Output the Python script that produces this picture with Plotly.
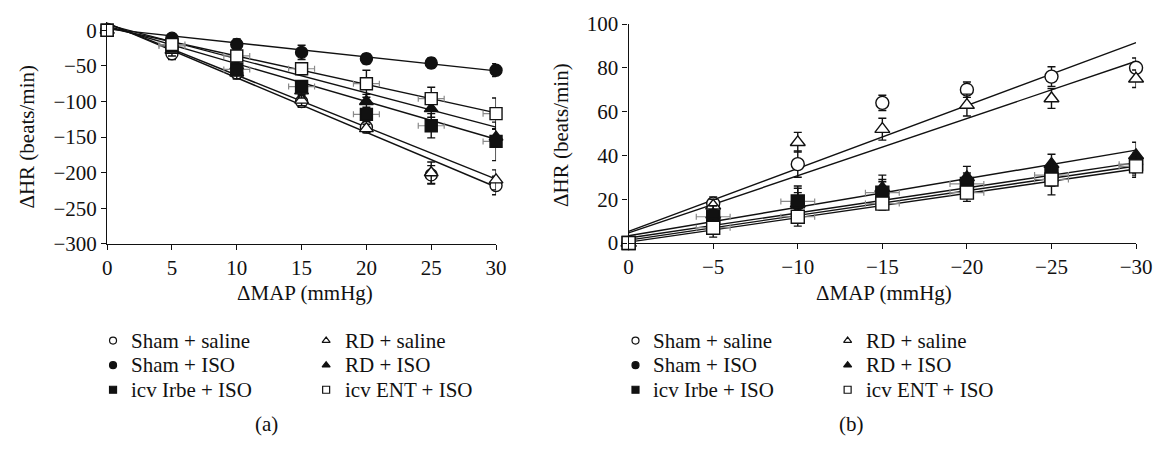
import plotly.graph_objects as go

# ---------------- data ----------------
# Panel (a): pressor responses (ΔMAP positive)
map_a = [0, 5, 10, 15, 20, 25, 30]
sham_saline_a = [0, -33, -60, -100, -136, -203, -218]
sham_saline_a_err = [0, 8, 8, 8, 6, 13, 13]
sham_iso_a = [0, -11, -20, -31, -40, -46, -56]
sham_iso_a_err = [0, 6, 8, 10, 7, 7, 9]
irbe_a = [0, -22, -55, -79, -118, -134, -156]
irbe_a_err = [0, 8, 8, 8, 10, 17, 27]
rd_saline_a = [0, -28, -60, -98, -138, -200, -210]
rd_saline_a_err = [0, 8, 8, 8, 6, 15, 14]
rd_iso_a = [0, -20, -50, -85, -100, -110, -150]
rd_iso_a_err = [0, 8, 8, 10, 10, 12, 12]
ent_a = [0, -20, -36, -54, -75, -96, -117]
ent_a_err = [0, 8, 8, 8, 19, 16, 22]
square_xerr_a = [0, 1, 1, 1, 1, 1, 1]

# regression lines panel (a): value at ΔMAP = 0 and at ΔMAP = 30
fit_x_a = [0, 30]
fit_sham_saline_a = [10, -220]
fit_rd_saline_a = [10, -209]
fit_rd_iso_a = [8, -136]
fit_irbe_a = [6, -153]
fit_ent_a = [4, -116]
fit_sham_iso_a = [2, -57]

# Panel (b): depressor responses (ΔMAP negative)
map_b = [0, -5, -10, -15, -20, -25, -30]
sham_saline_b = [0, 18, 36, 64, 70, 76, 80]
sham_saline_b_err = [0, 3, 6, 3.5, 3.5, 4.5, 4.5]
rd_saline_b = [0, 17, 46, 52, 63, 66, 75]
rd_saline_b_err = [0, 3, 4.5, 5, 5, 4.5, 4]
sham_iso_b = [0, 11, 18, 23, 28, 31, 36]
sham_iso_b_err = [0, 4, 5, 5, 4, 4, 4]
rd_iso_b = [0, 13, 18, 25, 30, 36, 40]
rd_iso_b_err = [0, 4, 7, 6, 5, 4.5, 6]
irbe_b = [0, 12, 19, 23, 27, 31, 36]
irbe_b_err = [0, 5, 7, 6, 4, 5, 5]
ent_b = [0, 7, 12, 18, 23, 29, 35]
ent_b_err = [0, 4.3, 4.3, 3, 4, 7, 5]
square_xerr_b = [0, 1, 1, 1, 1, 1, 1]

fit_x_b = [0, -30]
fit_sham_saline_b = [5.3, 91.5]
fit_rd_saline_b = [4.6, 83]
fit_rd_iso_b = [3.3, 42.4]
fit_irbe_b = [2.3, 36.7]
fit_sham_iso_b = [1.3, 35.2]
fit_ent_b = [0.4, 33.8]

ticks_a_x = [0, 5, 10, 15, 20, 25, 30]
ticks_a_y = [0, -50, -100, -150, -200, -250, -300]
ticks_b_x = [0, -5, -10, -15, -20, -25, -30]
ticks_b_y = [0, 20, 40, 60, 80, 100]

legend_col1 = ["Sham + saline", "Sham + ISO", "icv Irbe + ISO"]
legend_col2 = ["RD + saline", "RD + ISO", "icv ENT + ISO"]

# -------------- styles --------------
FONT = "Liberation Serif"
BLACK = "#111111"
GRAY = "#8a8a8a"
W = 1172
H = 451

STY = {
    "sham_saline": dict(symbol="circle", color="white"),
    "sham_iso": dict(symbol="circle", color=BLACK),
    "irbe": dict(symbol="square", color=BLACK),
    "rd_saline": dict(symbol="triangle-up", color="white"),
    "rd_iso": dict(symbol="triangle-up", color=BLACK),
    "ent": dict(symbol="square", color="white"),
}

fig = go.Figure()


def add_fit(xs, ys, xa, ya):
    fig.add_trace(go.Scatter(x=xs, y=ys, mode="lines", xaxis=xa, yaxis=ya,
                             line=dict(color=BLACK, width=1.4),
                             showlegend=False, hoverinfo="skip",
                             cliponaxis=False))


def add_series(xs, ys, err, key, xa, ya, xerr=None, size=12):
    st = STY[key]
    kw = {}
    if xerr is not None:
        kw["error_x"] = dict(type="data", array=xerr, visible=True,
                             color=GRAY, thickness=1.2, width=3)
    fig.add_trace(go.Scatter(
        x=xs, y=ys, mode="markers", xaxis=xa, yaxis=ya,
        marker=dict(symbol=st["symbol"], color=st["color"], size=size,
                    line=dict(color=BLACK, width=1.4)),
        error_y=dict(type="data", array=err, visible=True, color=BLACK,
                     thickness=1.4, width=4),
        showlegend=False, cliponaxis=False, **kw))


# panel (a)
for f in [fit_sham_saline_a, fit_rd_saline_a, fit_rd_iso_a, fit_irbe_a,
          fit_ent_a, fit_sham_iso_a]:
    add_fit(fit_x_a, f, "x", "y")
add_series(map_a, sham_saline_a, sham_saline_a_err, "sham_saline", "x", "y")
add_series(map_a, rd_saline_a, rd_saline_a_err, "rd_saline", "x", "y")
add_series(map_a, sham_iso_a, sham_iso_a_err, "sham_iso", "x", "y")
add_series(map_a, rd_iso_a, rd_iso_a_err, "rd_iso", "x", "y")
add_series(map_a, irbe_a, irbe_a_err, "irbe", "x", "y", xerr=square_xerr_a)
add_series(map_a, ent_a, ent_a_err, "ent", "x", "y", xerr=square_xerr_a)

# panel (b)
for f in [fit_sham_saline_b, fit_rd_saline_b, fit_rd_iso_b, fit_irbe_b,
          fit_sham_iso_b, fit_ent_b]:
    add_fit(fit_x_b, f, "x2", "y2")
add_series(map_b, sham_saline_b, sham_saline_b_err, "sham_saline", "x2", "y2", size=13)
add_series(map_b, rd_saline_b, rd_saline_b_err, "rd_saline", "x2", "y2", size=13)
add_series(map_b, sham_iso_b, sham_iso_b_err, "sham_iso", "x2", "y2", size=13)
add_series(map_b, rd_iso_b, rd_iso_b_err, "rd_iso", "x2", "y2", size=13)
add_series(map_b, irbe_b, irbe_b_err, "irbe", "x2", "y2", xerr=square_xerr_b, size=13)
add_series(map_b, ent_b, ent_b_err, "ent", "x2", "y2", xerr=square_xerr_b, size=13)

# -------------- legends (drawn in a pixel overlay axis) --------------
row_y = [347, 373, 399]
col1_keys = ["sham_saline", "sham_iso", "irbe"]
col2_keys = ["rd_saline", "rd_iso", "ent"]
legend_sets = [  # (marker x col1, text x col1, marker x col2, text x col2)
    (110, 126, 327, 344),
    (642, 658, 858, 875),
]
annotations = []
for (m1, t1, m2, t2) in legend_sets:
    for keys, labels, mx, tx in [(col1_keys, legend_col1, m1, t1),
                                 (col2_keys, legend_col2, m2, t2)]:
        for k, lab, yy in zip(keys, labels, row_y):
            st = STY[k]
            fig.add_trace(go.Scatter(
                x=[mx], y=[yy], mode="markers", xaxis="x3", yaxis="y3",
                marker=dict(symbol=st["symbol"], color=st["color"], size=7,
                            line=dict(color=BLACK, width=1.2)),
                showlegend=False, hoverinfo="skip", cliponaxis=False))
            annotations.append(dict(
                x=tx / W, y=1 - yy / H, xref="paper", yref="paper",
                text=lab, showarrow=False, xanchor="left", yanchor="middle",
                font=dict(family=FONT, size=21, color=BLACK)))

# panel labels
annotations.append(dict(x=266.7 / W, y=1 - 435 / H, xref="paper", yref="paper",
                        text="(a)", showarrow=False, xanchor="center",
                        yanchor="middle",
                        font=dict(family=FONT, size=21, color=BLACK)))
annotations.append(dict(x=861.7 / W, y=1 - 435 / H, xref="paper", yref="paper",
                        text="(b)", showarrow=False, xanchor="center",
                        yanchor="middle",
                        font=dict(family=FONT, size=21, color=BLACK)))

# axis titles
annotations.append(dict(x=305 / W, y=1 - 297 / H, xref="paper", yref="paper",
                        text="ΔMAP (mmHg)", showarrow=False, xanchor="center",
                        yanchor="middle",
                        font=dict(family=FONT, size=21, color=BLACK)))
annotations.append(dict(x=895 / W, y=1 - 297 / H, xref="paper", yref="paper",
                        text="ΔMAP (mmHg)", showarrow=False, xanchor="center",
                        yanchor="middle",
                        font=dict(family=FONT, size=21, color=BLACK)))
annotations.append(dict(x=22 / W, y=1 - 132 / H, xref="paper", yref="paper",
                        text="ΔHR (beats/min)", showarrow=False, textangle=-90,
                        xanchor="center", yanchor="middle",
                        font=dict(family=FONT, size=21, color=BLACK)))
annotations.append(dict(x=566 / W, y=1 - 130 / H, xref="paper", yref="paper",
                        text="ΔHR (beats/min)", showarrow=False, textangle=-90,
                        xanchor="center", yanchor="middle",
                        font=dict(family=FONT, size=21, color=BLACK)))

# significance marks
sig_a = [("#", -57.7), ("#§", -118), ("#§", -140.5), ("#§", -160.4)]
for txt, yv in sig_a:
    annotations.append(dict(x=31.0, y=yv, xref="x", yref="y", text=txt,
                            showarrow=False, xanchor="left", yanchor="middle",
                            font=dict(family=FONT, size=18, color=BLACK)))
sig_b = [("#", 43.3), ("#", 37.7), ("#", 32.9)]
for txt, yv in sig_b:
    annotations.append(dict(x=-30.66, y=yv, xref="x2", yref="y2", text=txt,
                            showarrow=False, xanchor="left", yanchor="middle",
                            font=dict(family=FONT, size=16, color=BLACK)))

axis_common = dict(showline=True, linecolor=BLACK, linewidth=1.4,
                   ticks="outside", ticklen=5, tickwidth=1.4, tickcolor=BLACK,
                   showgrid=False, zeroline=False,
                   tickfont=dict(family=FONT, size=21, color=BLACK))

fig.update_layout(
    width=W, height=H,
    margin=dict(l=0, r=0, t=0, b=0),
    paper_bgcolor="white", plot_bgcolor="rgba(0,0,0,0)",
    showlegend=False,
    xaxis=dict(domain=[104 / W, 500 / W], range=[0, 30], tickvals=ticks_a_x,
               anchor="y", **axis_common),
    yaxis=dict(domain=[1 - 245 / H, 1 - 10.3 / H], range=[-300, 12],
               tickvals=ticks_a_y, anchor="x", **axis_common),
    xaxis2=dict(domain=[635 / W, 1151.7 / W], range=[0, -30],
                tickvals=ticks_b_x, anchor="y2", **axis_common),
    yaxis2=dict(domain=[1 - 244 / H, 1 - 12.7 / H], range=[0, 100],
                tickvals=ticks_b_y, anchor="x2", **axis_common),
    xaxis3=dict(domain=[0, 1], range=[0, W], visible=False, anchor="y3",
                fixedrange=True),
    yaxis3=dict(domain=[0, 1], range=[H, 0], visible=False, anchor="x3",
                fixedrange=True),
    annotations=annotations,
)

fig.write_html("out.html")
